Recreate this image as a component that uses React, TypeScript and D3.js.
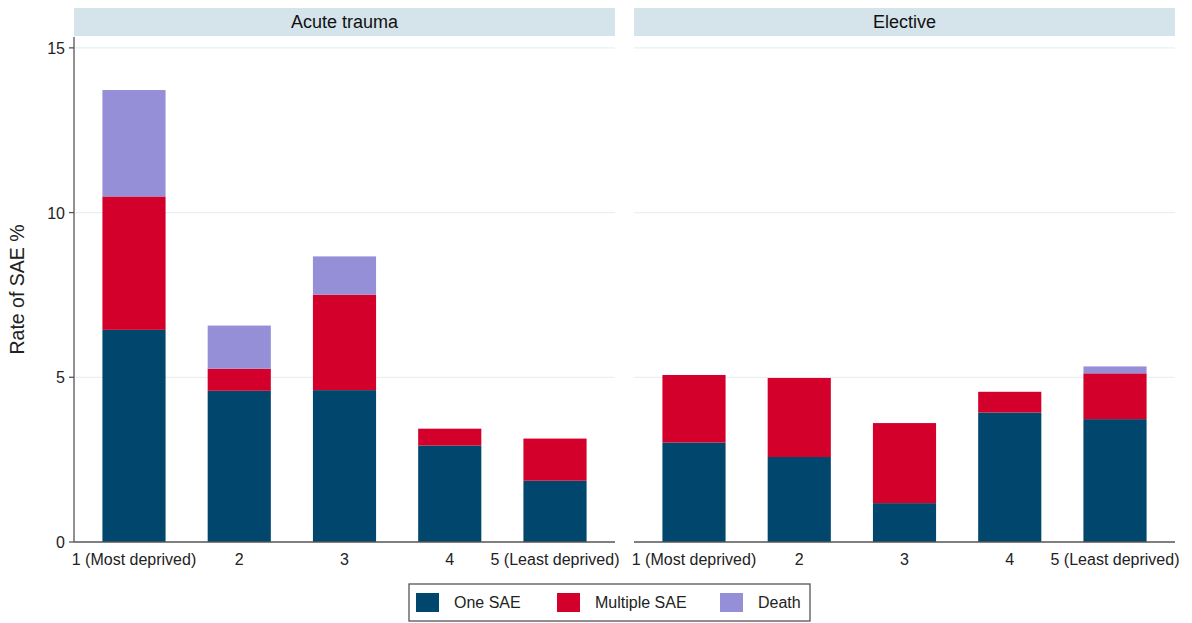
import React from "react";
import * as d3 from "d3";

const categories = ["1 (Most deprived)", "2", "3", "4", "5 (Least deprived)"];
const panels = ["Acute trauma", "Elective"];
const seriesNames = ["One SAE", "Multiple SAE", "Death"];
const seriesColors = ["#00466d", "#d2002b", "#958fd8"];

// Acute trauma
const acuteOne = [6.44, 4.59, 4.61, 2.93, 1.86];
const acuteMultiple = [4.05, 0.67, 2.9, 0.51, 1.28];
const acuteDeath = [3.23, 1.31, 1.16, 0, 0];
// Elective
const electiveOne = [3.02, 2.58, 1.18, 3.93, 3.73];
const electiveMultiple = [2.05, 2.4, 2.43, 0.63, 1.39];
const electiveDeath = [0, 0, 0, 0, 0.21];

const yTicks = [0, 5, 10, 15];

const W = 1192;
const H = 623;
const plotTop = 37;
const plotBottom = 542;
const panelWidth = 541;
const panelX = [74, 634];

export default function App() {
  const y = d3.scaleLinear().domain([0, 15.33]).range([plotBottom, plotTop]);
  const x = d3
    .scaleBand<string>()
    .domain(categories)
    .range([0, panelWidth])
    .paddingInner(0.4)
    .paddingOuter(0.27);

  const panelData = [
    [acuteOne, acuteMultiple, acuteDeath],
    [electiveOne, electiveMultiple, electiveDeath],
  ];

  const stackFor = (series: number[][]) => {
    const rows = categories.map((c, i) => ({
      cat: c,
      s0: series[0][i],
      s1: series[1][i],
      s2: series[2][i],
    }));
    return d3.stack<any>().keys(["s0", "s1", "s2"])(rows);
  };

  const font = "'Liberation Sans', Arial, sans-serif";
  const yZero = y(0);

  return (
    <svg width={W} height={H} style={{ position: "absolute", left: 0, top: 0, background: "#fff" }} fontFamily={font}>
      <rect x={0} y={0} width={W} height={H} fill="#fff" />
      {panels.map((p, pi) => {
        const x0 = panelX[pi];
        const stacked = stackFor(panelData[pi]);
        return (
          <g key={p} transform={`translate(${x0},0)`}>
            <rect x={0} y={8} width={panelWidth} height={28} fill="#d4e4ea" />
            <text x={panelWidth / 2} y={28} textAnchor="middle" fontSize={18} fill="#111">
              {p}
            </text>
            {yTicks
              .filter((t) => t > 0)
              .map((t) => (
                <line key={t} x1={0} x2={panelWidth} y1={y(t)} y2={y(t)} stroke="#e9f0f3" strokeWidth={1.2} />
              ))}
            {stacked.map((layer, li) => (
              <g key={li} fill={seriesColors[li]}>
                {layer.map((d, di) =>
                  d[1] - d[0] > 0 ? (
                    <rect
                      key={di}
                      x={x(categories[di])!}
                      width={x.bandwidth()}
                      y={y(d[1])}
                      height={y(d[0]) - y(d[1])}
                    />
                  ) : null
                )}
              </g>
            ))}
            <line x1={0} x2={panelWidth} y1={yZero} y2={yZero} stroke="#555" strokeWidth={1.3} />
            {categories.map((c) => (
              <text
                key={c}
                x={x(c)! + x.bandwidth() / 2}
                y={565}
                textAnchor="middle"
                fontSize={16}
                fill="#222"
              >
                {c}
              </text>
            ))}
          </g>
        );
      })}
      {/* Y axis */}
      <g transform={`translate(${panelX[0]},0)`}>
        <line x1={0} x2={0} y1={plotTop} y2={yZero} stroke="#555" strokeWidth={1.3} />
        {yTicks.map((t) => (
          <g key={t}>
            <line x1={-5} x2={0} y1={y(t)} y2={y(t)} stroke="#555" strokeWidth={1.3} />
            <text x={-9} y={y(t) + 6} textAnchor="end" fontSize={16} fill="#222">
              {t}
            </text>
          </g>
        ))}
      </g>
      <text
        transform={`translate(24,${(plotTop + plotBottom) / 2 + 0}) rotate(-90)`}
        textAnchor="middle"
        fontSize={19.5}
        fill="#222"
      >
        Rate of SAE %
      </text>
      {/* Legend */}
      <g>
        <rect x={409} y={584} width={401} height={37} fill="#fff" stroke="#555" strokeWidth={1.3} />
        {seriesNames.map((s, i) => {
          const sx = [416, 557, 720][i];
          return (
            <g key={s}>
              <rect x={sx} y={593} width={23} height={19} fill={seriesColors[i]} />
              <text x={sx + 38} y={608} fontSize={16} fill="#222">
                {s}
              </text>
            </g>
          );
        })}
      </g>
    </svg>
  );
}
